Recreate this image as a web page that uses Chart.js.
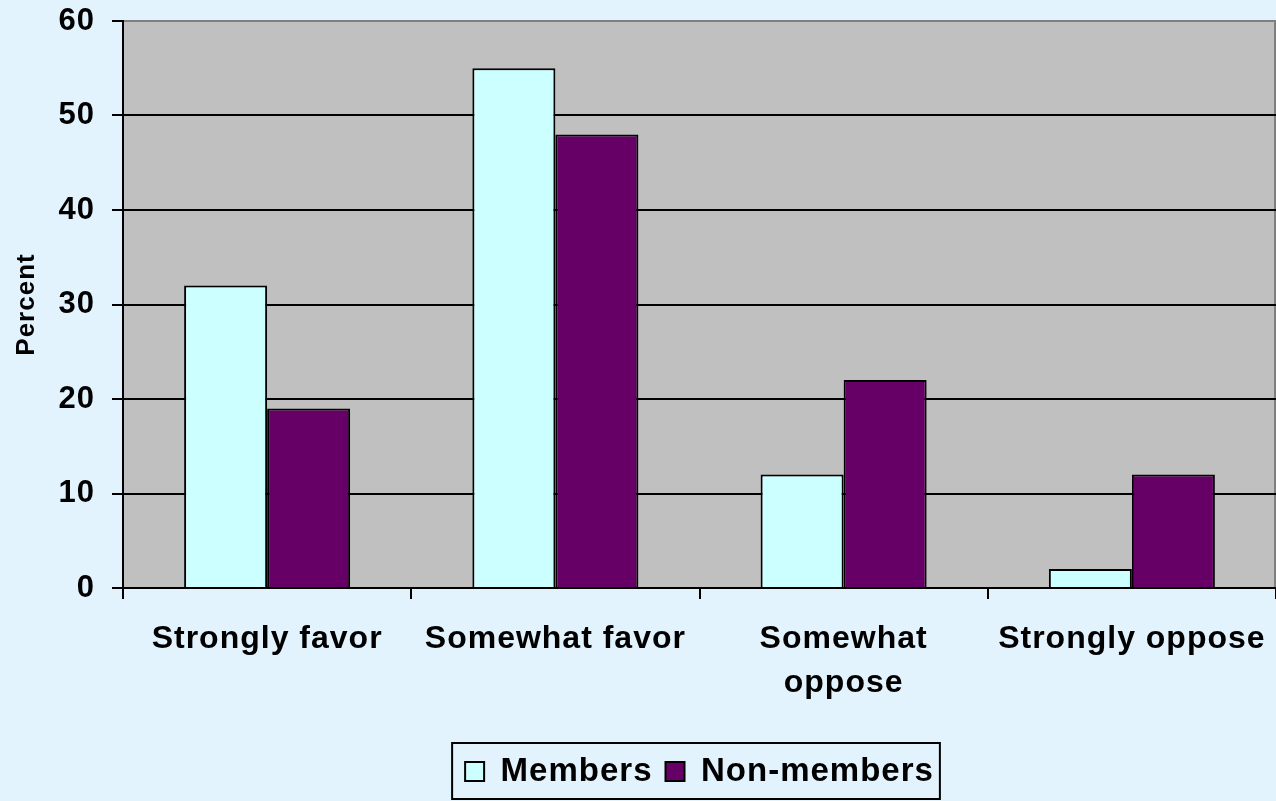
<!DOCTYPE html>
<html>
<head>
<meta charset="utf-8">
<script src="https://cdn.jsdelivr.net/npm/chart.js@4/dist/chart.umd.min.js"></script>
<style>
  html, body { margin:0; padding:0; background:#E3F3FD; }
  #wrap { width:1276px; height:801px; position:relative; }
</style>
</head>
<body>
<div id="wrap"><canvas id="chart"></canvas></div>
<script>
// ---- Data ----
const categories = ['Strongly favor', 'Somewhat favor', ['Somewhat', 'oppose'], 'Strongly oppose'];
const members = [32, 55, 12, 2];
const nonMembers = [19, 48, 22, 12];
const yTicks = [0, 10, 20, 30, 40, 50, 60];

const FONT = "'Liberation Sans', Arial, sans-serif";

// letter spacing gets lost whenever the canvas is resized, so set it again before layout and draw
const spacing = {
  id: 'spacing',
  beforeLayout(chart){ chart.ctx.letterSpacing = '1px'; },
  beforeDraw(chart){ chart.ctx.letterSpacing = '1px'; },
  // centre the legend under the plot instead of the whole canvas
  afterLayout(chart){
    const lg = chart.legend, a = chart.chartArea;
    if(lg){ lg.left = a.left; lg.right = a.right; lg.width = a.right - a.left; }
  }
};

// gray plot area with the darker top/right edge
const plotArea = {
  id: 'plotArea',
  beforeDraw(chart){
    const {ctx, chartArea:a} = chart;
    ctx.save();
    ctx.fillStyle = '#C0C0C0';
    ctx.fillRect(a.left, a.top, a.right - a.left, a.bottom - a.top);
    ctx.strokeStyle = '#808080';
    ctx.lineWidth = 2;
    ctx.beginPath();
    ctx.moveTo(a.left, a.top);
    ctx.lineTo(a.right - 1, a.top);
    ctx.lineTo(a.right - 1, a.bottom);
    ctx.stroke();
    ctx.restore();
  }
};

// frame round the legend items
const legendFrame = {
  id: 'legendFrame',
  afterDraw(chart){
    const lg = chart.legend;
    if(!lg || !lg.legendHitBoxes || !lg.legendHitBoxes.length) return;
    const boxes = lg.legendHitBoxes;
    const left = Math.min(...boxes.map(b => b.left)) - 13;
    const right = Math.max(...boxes.map(b => b.left + b.width)) + 6;
    const ctx = chart.ctx;
    ctx.save();
    ctx.strokeStyle = '#000';
    ctx.lineWidth = 2;
    ctx.strokeRect(left, lg.top + 1, right - left, 799 - lg.top - 1);
    ctx.restore();
  }
};

new Chart(document.getElementById('chart'), {
  type: 'bar',
  data: {
    labels: categories,
    datasets: [
      { label:'Members', data: members, backgroundColor:'#CCFFFF', borderColor:'#000', borderWidth:2 },
      { label:'Non-members', data: nonMembers, backgroundColor:'#660066', borderColor:'#000', borderWidth:2 }
    ]
  },
  options: {
    responsive: true,
    maintainAspectRatio: false,
    animation: false,
    categoryPercentage: 0.576,
    barPercentage: 1,
    layout: { padding: { top: 21, right: 0, bottom: 3, left: 0 } },
    plugins: {
      tooltip: { enabled: false },
      legend: {
        position: 'bottom',
        labels: {
          color: '#000',
          boxWidth: 19, boxHeight: 19,
          padding: 13,
          font: { family: FONT, size: 33, weight: 'bold' }
        }
      }
    },
    scales: {
      x: {
        grid: { offset: true, drawOnChartArea: false, tickLength: 11, color: '#000', lineWidth: 2 },
        border: { color: '#000', width: 2 },
        ticks: {
          color: '#000', padding: 19, autoSkip: false, maxRotation: 0, minRotation: 0,
          font: { family: FONT, size: 32, weight: 'bold', lineHeight: 1.35 }
        },
        afterFit(scale){
          scale.height = 154;
          scale.paddingLeft = 0; scale.paddingRight = 0;
        }
      },
      y: {
        min: 0, max: 60,
        afterBuildTicks(scale){ scale.ticks = yTicks.map(v => ({ value: v })); },
        grid: {
          tickLength: 11, lineWidth: 2, tickColor: '#000',
          color: c => (c.tick && c.tick.value === 60) ? '#808080' : '#000'
        },
        border: { color: '#000', width: 2 },
        ticks: { color: '#000', padding: 17, font: { family: FONT, size: 31, weight: 'bold' } },
        title: {
          display: true, text: 'Percent', color: '#000',
          padding: { top: 11, bottom: 0 },
          font: { family: FONT, size: 26, weight: 'bold' }
        },
        afterFit(scale){
          scale.width = 123;
          scale.paddingTop = 0; scale.paddingBottom = 0;
        }
      }
    }
  },
  plugins: [spacing, plotArea, legendFrame]
});
</script>
</body>
</html>
